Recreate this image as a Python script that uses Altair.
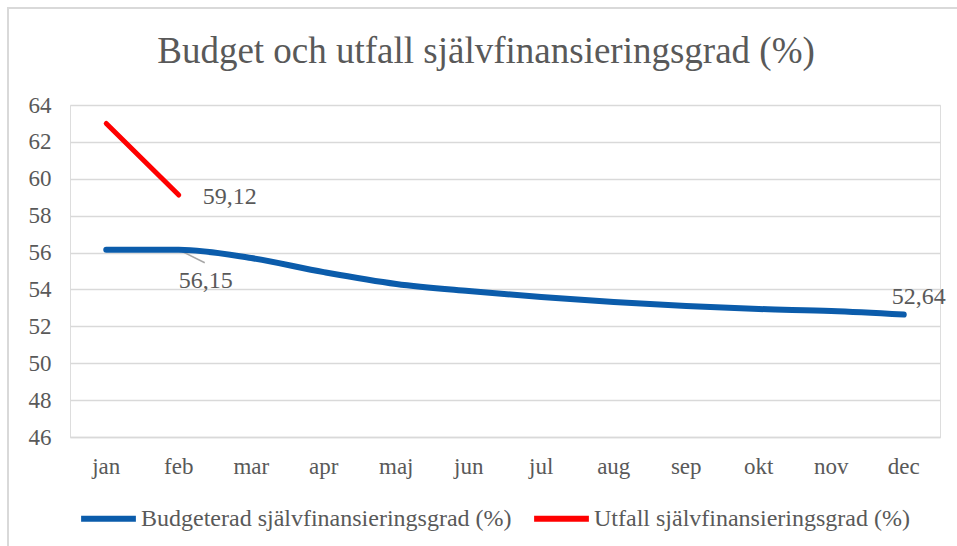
import altair as alt
import pandas as pd

months = ["jan", "feb", "mar", "apr", "maj", "jun", "jul", "aug", "sep", "okt", "nov", "dec"]
budget = [56.15, 56.15, 55.70, 54.94, 54.30, 53.91, 53.59, 53.32, 53.10, 52.94, 52.83, 52.64]
utfall = [63.0, 59.12]
series_names = ["Budgeterad självfinansieringsgrad (%)", "Utfall självfinansieringsgrad (%)"]
series_colors = ["#0B5CAB", "#FF0000"]
y_ticks = [46, 48, 50, 52, 54, 56, 58, 60, 62, 64]
title_text = "Budget och utfall självfinansieringsgrad (%)"

rows = []
for m, v in zip(months, budget):
    rows.append({"month": m, "value": v, "series": series_names[0]})
for m, v in zip(months, utfall):
    rows.append({"month": m, "value": v, "series": series_names[1]})
df = pd.DataFrame(rows)

FONT = "Liberation Serif"
TXT = "#595959"
W, H = 870, 332

x_enc = alt.X("month:N", sort=months, scale=alt.Scale(domain=months, paddingOuter=0.5, paddingInner=1),
              axis=alt.Axis(title=None, labelAngle=0, labelFont=FONT, labelFontSize=23, labelColor=TXT,
                            labelPadding=18, ticks=False, domainColor="#D9D9D9", domainWidth=1.5, grid=False,
                            labelOverlap=False))
y_enc = alt.Y("value:Q", scale=alt.Scale(domain=[46, 64], nice=False, zero=False),
              axis=alt.Axis(title=None, values=y_ticks, labelFont=FONT, labelFontSize=23, labelColor=TXT,
                            labelPadding=19, ticks=False, domain=False, gridColor="#D9D9D9", gridWidth=1.5,
                            labelOverlap=False))

base = alt.Chart(df)

budget_line = base.transform_filter(alt.datum.series == series_names[0]).mark_line(
    strokeWidth=6, interpolate="monotone", strokeCap="round", strokeJoin="round"
).encode(
    x=x_enc, y=y_enc,
    color=alt.Color("series:N", scale=alt.Scale(domain=series_names, range=series_colors),
                    legend=alt.Legend(title=None, orient="none", legendX=8, legendY=383, direction="horizontal",
                                      symbolType="stroke", symbolSize=3000, symbolStrokeWidth=6,
                                      labelFont=FONT, labelFontSize=24, labelColor=TXT, labelOffset=2,
                                      columnPadding=10, labelLimit=500))
)
utfall_line = base.transform_filter(alt.datum.series == series_names[1]).mark_line(
    strokeWidth=5, strokeCap="round"
).encode(x=x_enc, y=y_enc, color=alt.Color("series:N"))


def label_layer(month, value, dx, dy):
    d = pd.DataFrame({"month": [month], "value": [value], "label": [f"{value:.2f}".replace(".", ",")]})
    return alt.Chart(d).mark_text(
        font=FONT, fontSize=24, color=TXT, align="left", baseline="middle", dx=dx, dy=dy
    ).encode(x=x_enc, y=y_enc, text="label:N")


lab_utfall = label_layer(months[1], utfall[1], 24, 2)
lab_feb = label_layer(months[1], budget[1], 0, 31)
lab_dec = label_layer(months[-1], budget[-1], -12, -18)

leader = alt.Chart(pd.DataFrame({"month": [months[1]], "value": [budget[1]]})).mark_rule(
    color="#A6A6A6", strokeWidth=1.5, x2Offset=26, y2Offset=13
).encode(x=x_enc, x2="month:N", y=y_enc, y2="value:Q")

title = alt.Chart(pd.DataFrame({"t": [title_text]})).mark_text(
    font=FONT, fontSize=37, color=TXT, align="center", baseline="alphabetic"
).encode(x=alt.value(416), y=alt.value(-42), text="t:N")

border = alt.Chart(pd.DataFrame({"a": [0]})).mark_rect(
    fill="transparent", stroke="#D9D9D9", strokeWidth=2
).encode(x=alt.value(-62), x2=alt.value(895), y=alt.value(-97), y2=alt.value(450))

chart = alt.layer(border, title, leader, budget_line, utfall_line, lab_utfall, lab_feb, lab_dec).properties(
    width=W, height=H,
    autosize=alt.AutoSizeParams(type="none"),
    padding={"left": 70, "top": 105, "right": 17, "bottom": 109},
).configure_view(strokeWidth=0, stroke="transparent").configure(background="white")

chart.save("out.html", embed_options={"renderer": "svg", "actions": False})
